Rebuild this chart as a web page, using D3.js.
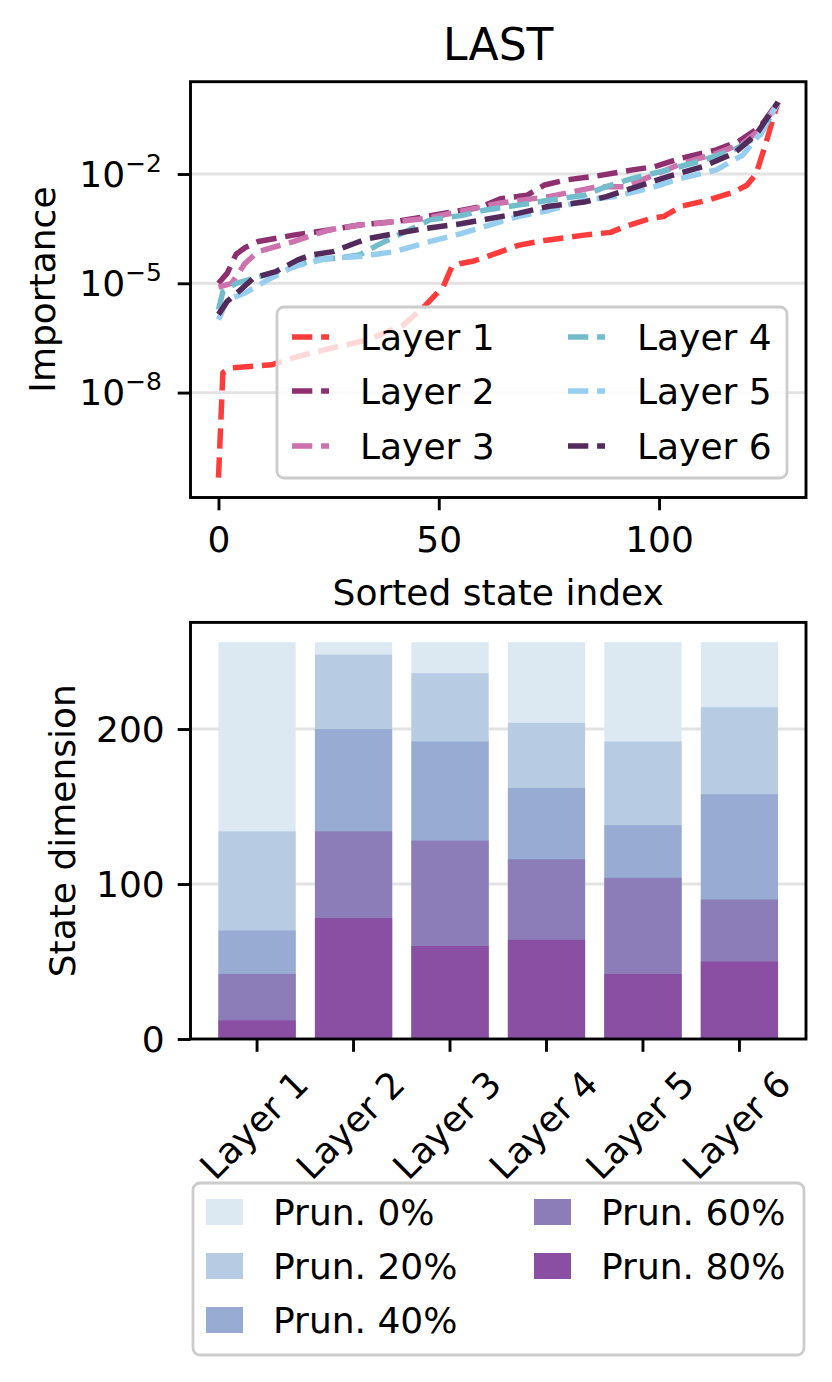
<!DOCTYPE html>
<html><head><meta charset="utf-8">
<script src="https://cdn.jsdelivr.net/npm/d3@7"></script>
<style>
body{margin:0;background:#fff}
svg{display:block}
text{font-family:"DejaVu Sans",sans-serif;fill:#000}
</style>
</head><body>
<svg id="c" width="832" height="1382"></svg>
<script>
// ---------------- data ----------------
const layerNames = ["Layer 1","Layer 2","Layer 3","Layer 4","Layer 5","Layer 6"];
const layerColors = ["#ff3c3c","#8e3070","#cc72ad","#72bccc","#97cdee","#522b5c"];

const layer1Idx = [0,1,3,12,18,26,34,42,47,51,53,55,58,63,68,74,83,89,92,98,101,105,111,117,120,122,124,126,127];
const layer1Val = [4.6e-11,3.5e-8,4.8e-8,5.8e-8,9.8e-8,1.7e-7,2.8e-7,7.2e-7,2.5e-6,8.1e-6,2.9e-5,3.5e-5,4.1e-5,6.6e-5,1.1e-4,1.5e-4,2.1e-4,2.5e-4,3.5e-4,6.0e-4,6.8e-4,1.3e-3,1.9e-3,3.2e-3,5.0e-3,1.0e-2,5.6e-2,0.37,0.93];

const layer2Idx = [0,2,4,6,9,17,25,32,40,47,55,60,64,70,74,79,86,94,99,105,113,118,123,127];
const layer2Val = [1.0e-5,1.9e-5,6.3e-5,9.5e-5,1.4e-4,2.1e-4,2.9e-4,4.0e-4,4.9e-4,6.8e-4,1.0e-3,1.3e-3,2.1e-3,2.6e-3,5.0e-3,6.9e-3,8.9e-3,1.3e-2,1.6e-2,2.7e-2,4.6e-2,7.8e-2,0.20,0.95];

const layer3Idx = [0,3,6,9,17,25,32,40,47,56,64,75,86,92,98,105,113,119,123,127];
const layer3Val = [7.9e-6,1.0e-5,3.5e-5,7.4e-5,1.4e-4,2.9e-4,4.0e-4,4.9e-4,6.0e-4,1.0e-3,1.6e-3,2.4e-3,4.5e-3,4.5e-3,8.5e-3,1.9e-2,3.7e-2,6.9e-2,0.17,0.95];

const layer4Idx = [0,1,4,9,15,19,22,27,32,36,40,44,48,55,60,68,75,83,88,94,102,109,117,123,127];
const layer4Val = [1.9e-6,5.9e-6,1.0e-5,1.5e-5,2.3e-5,3.5e-5,4.4e-5,4.9e-5,6.0e-5,1.1e-4,1.9e-4,3.2e-4,5.5e-4,7.2e-4,1.0e-3,1.4e-3,1.9e-3,2.6e-3,4.5e-3,7.6e-3,1.3e-2,2.2e-2,4.6e-2,0.12,0.92];

const layer5Idx = [0,2,6,11,17,25,32,40,47,55,60,68,75,83,90,98,105,113,119,123,127];
const layer5Val = [1.0e-6,3.5e-6,5.4e-6,1.2e-5,2.9e-5,4.9e-5,5.4e-5,7.4e-5,1.3e-4,2.3e-4,3.5e-4,6.8e-4,1.0e-3,1.9e-3,2.4e-3,4.1e-3,7.6e-3,1.3e-2,3.3e-2,0.13,0.90];

const layer6Idx = [0,2,5,8,13,18,21,26,32,34,40,47,55,60,68,75,83,88,95,102,110,117,122,127];
const layer6Val = [1.4e-6,3.2e-6,6.6e-6,1.4e-5,2.1e-5,4.4e-5,6.0e-5,7.4e-5,1.4e-4,1.7e-4,2.3e-4,3.2e-4,4.3e-4,5.5e-4,8.3e-4,1.3e-3,1.7e-3,2.4e-3,4.5e-3,8.5e-3,1.6e-2,3.7e-2,0.12,0.95];

const importanceTicks = [1e-8, 1e-5, 1e-2];
const importanceTickExp = ["\u22128", "\u22125", "\u22122"];
const indexTicks = [0, 50, 100];

const pruneLabels = ["Prun. 0%","Prun. 20%","Prun. 40%","Prun. 60%","Prun. 80%"];
const pruneColors = ["#dce8f2","#b7cce3","#98acd3","#8c7db8","#8a4ea2"];
const prune0  = [256,256,256,256,256,256];
const prune20 = [134,248,236,204,192,214];
const prune40 = [70,200,192,162,138,158];
const prune60 = [42,134,128,116,104,90];
const prune80 = [12,78,60,64,42,50];
const dimTicks = [0,100,200];

// ---------------- drawing ----------------
const svg = d3.select("#c");
const FS = 36;
const SW = 2.9;   // spine width
const TL = 12.8;  // tick length

const idxSets = [layer1Idx,layer2Idx,layer3Idx,layer4Idx,layer5Idx,layer6Idx];
const valSets = [layer1Val,layer2Val,layer3Val,layer4Val,layer5Val,layer6Val];

// ===== top panel =====
const T = {l:190.5, r:806, t:81.7, b:497.5};
const x1 = d3.scaleLinear().domain([-6.35, 133.35]).range([T.l, T.r]);
const y1 = d3.scaleLog().domain([Math.pow(10,-10.88), Math.pow(10,0.534)]).range([T.b, T.t]);

svg.append("defs").append("clipPath").attr("id","clipTop")
  .append("rect").attr("x",T.l).attr("y",T.t).attr("width",T.r-T.l).attr("height",T.b-T.t);

// grid
svg.append("g").selectAll("line").data(importanceTicks).join("line")
  .attr("x1",T.l).attr("x2",T.r).attr("y1",d=>y1(d)).attr("y2",d=>y1(d))
  .attr("stroke","#e3e3e3").attr("stroke-width",2.9);

// lines
const line = d3.line().x(d=>x1(d[0])).y(d=>y1(d[1]));
const gl = svg.append("g").attr("clip-path","url(#clipTop)");
idxSets.forEach((ix,k)=>{
  const pts = ix.map((v,i)=>[v, valSets[k][i]]);
  gl.append("path").datum(pts).attr("d",line)
    .attr("fill","none").attr("stroke",layerColors[k]).attr("stroke-width",5.5)
    .attr("stroke-dasharray","20.3,8.8").attr("stroke-linejoin","round");
});

// axes ticks
const axL = svg.append("g").attr("transform",`translate(${T.l},0)`)
  .call(d3.axisLeft(y1).tickValues(importanceTicks).tickFormat("").tickSize(TL).tickSizeOuter(0));
axL.select(".domain").remove();
axL.selectAll(".tick line").attr("stroke","#000").attr("stroke-width",SW);
importanceTicks.forEach((t,i)=>{
  const tx = svg.append("text").attr("x",162).attr("y",y1(t)+12.7)
    .attr("text-anchor","end").attr("font-size",FS);
  tx.append("tspan").text("10");
  tx.append("tspan").attr("font-size",25).attr("dy",-15).text(importanceTickExp[i]);
});
const axB = svg.append("g").attr("transform",`translate(0,${T.b})`)
  .call(d3.axisBottom(x1).tickValues(indexTicks).tickSize(TL).tickSizeOuter(0).tickPadding(12));
axB.select(".domain").remove();
axB.selectAll(".tick line").attr("stroke","#000").attr("stroke-width",SW);
axB.selectAll(".tick text").attr("font-size",FS).attr("font-family","DejaVu Sans").attr("fill","#000").attr("dy",null).attr("y",null)
  .attr("transform","translate(0,54)");

svg.append("rect").attr("x",T.l).attr("y",T.t).attr("width",T.r-T.l).attr("height",T.b-T.t)
  .attr("fill","none").attr("stroke","#000").attr("stroke-width",SW);

svg.append("text").attr("x",(T.l+T.r)/2).attr("y",60).attr("text-anchor","middle")
  .attr("font-size",44).text("LAST");
svg.append("text").attr("transform",`translate(55,${(T.t+T.b)/2}) rotate(-90)`)
  .attr("text-anchor","middle").attr("font-size",FS).text("Importance");
svg.append("text").attr("x",(T.l+T.r)/2).attr("y",605).attr("text-anchor","middle")
  .attr("font-size",FS).text("Sorted state index");

// top legend
const lg = svg.append("g");
lg.append("rect").attr("x",277).attr("y",307).attr("width",510).attr("height",171).attr("rx",7)
  .attr("fill","#fff").attr("fill-opacity",0.8).attr("stroke","#cccccc").attr("stroke-width",2.8);
const legCols = [{hx:292, tx:360},{hx:568, tx:637}];
const legRows = [337, 391, 446];
layerNames.forEach((n,k)=>{
  const c = legCols[Math.floor(k/3)], ry = legRows[k%3];
  lg.append("line").attr("x1",c.hx).attr("x2",c.hx+37).attr("y1",ry).attr("y2",ry)
    .attr("stroke",layerColors[k]).attr("stroke-width",5.5).attr("stroke-dasharray","20.3,8.8");
  lg.append("text").attr("x",c.tx).attr("y",ry+13).attr("font-size",FS).text(n);
});

// ===== bottom panel =====
const B = {l:190.5, r:806, t:622.4, b:1039};
const x2 = d3.scaleBand().domain(layerNames).range([B.l, B.r]).paddingInner(0.2).paddingOuter(0.29);
const y2 = d3.scaleLinear().domain([0, 268.8]).range([B.b, B.t]);

svg.append("g").selectAll("line").data(dimTicks.slice(1)).join("line")
  .attr("x1",B.l).attr("x2",B.r).attr("y1",d=>y2(d)).attr("y2",d=>y2(d))
  .attr("stroke","#e3e3e3").attr("stroke-width",2.9);

const pruneSets = [prune0,prune20,prune40,prune60,prune80];
const gb = svg.append("g");
pruneSets.forEach((vals,k)=>{
  gb.append("g").selectAll("rect").data(vals).join("rect")
    .attr("x",(d,i)=>x2(layerNames[i])).attr("width",x2.bandwidth())
    .attr("y",d=>y2(d)).attr("height",d=>y2(0)-y2(d))
    .attr("fill",pruneColors[k]);
});

const axL2 = svg.append("g").attr("transform",`translate(${B.l},0)`)
  .call(d3.axisLeft(y2).tickValues(dimTicks).tickSize(TL).tickSizeOuter(0).tickPadding(13));
axL2.select(".domain").remove();
axL2.selectAll(".tick line").attr("stroke","#000").attr("stroke-width",SW);
axL2.selectAll(".tick text").attr("font-size",FS).attr("font-family","DejaVu Sans").attr("fill","#000").attr("dy","0.36em");

const axB2 = svg.append("g").attr("transform",`translate(0,${B.b})`)
  .call(d3.axisBottom(x2).tickSize(TL).tickSizeOuter(0).tickFormat(""));
axB2.select(".domain").remove();
axB2.selectAll(".tick line").attr("stroke","#000").attr("stroke-width",SW);
layerNames.forEach(n=>{
  const cx = x2(n) + x2.bandwidth()/2;
  svg.append("text").attr("transform",`translate(${cx-3},1125) rotate(-45)`)
    .attr("text-anchor","middle").attr("y",12.5).attr("font-size",FS).text(n);
});

svg.append("rect").attr("x",B.l).attr("y",B.t).attr("width",B.r-B.l).attr("height",B.b-B.t)
  .attr("fill","none").attr("stroke","#000").attr("stroke-width",SW);

svg.append("text").attr("transform",`translate(75,${(B.t+B.b)/2}) rotate(-90)`)
  .attr("text-anchor","middle").attr("font-size",FS).text("State dimension");

// bottom legend
const lb = svg.append("g");
lb.append("rect").attr("x",193).attr("y",1183).attr("width",611).attr("height",172).attr("rx",7)
  .attr("fill","#fff").attr("fill-opacity",0.8).attr("stroke","#cccccc").attr("stroke-width",2.8);
const bCols = [{px:206, tx:273},{px:534, tx:601}];
const bRows = [1225, 1279, 1333];
pruneLabels.forEach((n,k)=>{
  const c = bCols[k<3?0:1], by = bRows[k<3?k:k-3];
  lb.append("rect").attr("x",c.px).attr("y",by-26).attr("width",37).attr("height",26).attr("fill",pruneColors[k]);
  lb.append("text").attr("x",c.tx).attr("y",by).attr("font-size",FS).text(n);
});
</script>
</body></html>
